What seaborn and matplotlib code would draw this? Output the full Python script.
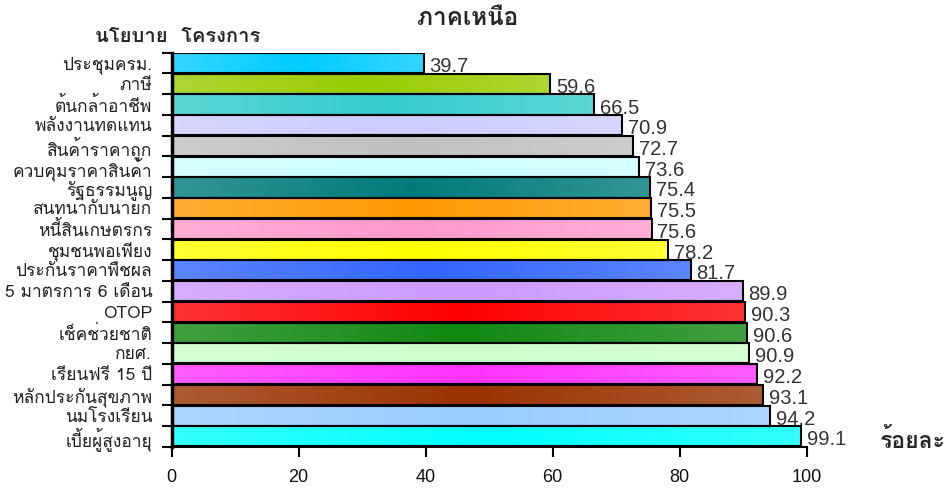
import numpy as np
import matplotlib
matplotlib.use("Agg")
import matplotlib.pyplot as plt
import seaborn as sns
from matplotlib import font_manager
from matplotlib.colors import to_rgb
from fontTools.ttLib import TTFont

# ---- data ----
policies = ["ประชุมครม.", "ภาษี", "ต้นกล้าอาชีพ", "พลังงานทดแทน", "สินค้าราคาถูก",
            "ควบคุมราคาสินค้า", "รัฐธรรมนูญ", "สนทนากับนายก", "หนี้สินเกษตรกร",
            "ชุมชนพอเพียง", "ประกันราคาพืชผล", "5 มาตรการ 6 เดือน", "OTOP",
            "เช็คช่วยชาติ", "กยศ.", "เรียนฟรี 15 ปี", "หลักประกันสุขภาพ",
            "นมโรงเรียน", "เบี้ยผู้สูงอายุ"]
percent = [39.7, 59.6, 66.5, 70.9, 72.7, 73.6, 75.4, 75.5, 75.6, 78.2,
           81.7, 89.9, 90.3, 90.6, 90.9, 92.2, 93.1, 94.2, 99.1]
bar_colors = ["#00CCFF", "#99CC00", "#33CCCC", "#CCCCFF", "#C0C0C0",
              "#CCFFFF", "#007B7B", "#FF9900", "#FF99CC", "#FFFF00",
              "#3366FF", "#CC99FF", "#FF0000", "#118811", "#CCFFCC",
              "#FF33FF", "#993300", "#99CCFF", "#00FFFF"]
x_ticks = [0, 20, 40, 60, 80, 100]


def thai_family():
    # first installed family that has Thai glyphs
    for f in font_manager.fontManager.ttflist:
        try:
            cmap = TTFont(f.fname, fontNumber=0, lazy=True).getBestCmap()
        except Exception:
            continue
        if cmap and 0x0E01 in cmap:
            return [f.name]
    return []


family = thai_family() + ["DejaVu Sans"]

sns.set_theme(style="white")
plt.rcParams["font.family"] = family

fig, ax = plt.subplots(figsize=(9.48, 4.92), dpi=100)
fig.subplots_adjust(left=0.181, right=0.851, top=0.893, bottom=0.092)

sns.barplot(x=percent, y=policies, hue=policies, palette=bar_colors,
            legend=False, orient="h", width=0.97, edgecolor="black",
            linewidth=1.5, ax=ax)

# gradient fill: slightly lighter at the ends, full colour in the middle
for patch, col in zip(ax.patches, bar_colors):
    x0, y0 = patch.get_x(), patch.get_y()
    w, h = patch.get_width(), patch.get_height()
    base = np.array(to_rgb(col))
    light = base + (1 - base) * 0.2
    t = np.abs(np.linspace(-1, 1, 200))[:, None]
    grad = light * t + base * (1 - t)
    ax.imshow(grad[None, :, :], extent=[x0, x0 + w, y0 + h, y0],
              aspect="auto", zorder=1, interpolation="bilinear")
    patch.set_facecolor("none")
    patch.set_zorder(2)

for i, v in enumerate(percent):
    ax.text(v + 0.9, i + 0.17, f"{v}", va="center", ha="left",
            fontsize=14.5, color="#333333", family=["Liberation Sans"])

ax.set_xlim(0, 100)
ax.set_ylim(len(policies) - 0.5, -0.5)
ax.set_xticks(x_ticks)
ax.set_xticklabels([str(t) for t in x_ticks], fontsize=13, color="#111111",
                   family=["Liberation Sans"])
ax.set_yticks(range(len(policies)))
ax.set_yticklabels(policies, fontsize=12.5, color="#222222")
ax.set_yticks(np.arange(-0.5, len(policies), 1), minor=True)
ax.tick_params(axis="y", which="major", length=0, pad=14)
ax.tick_params(axis="y", which="minor", length=7, width=1.5, color="black", left=True)
ax.tick_params(axis="x", which="major", length=7, width=1.5, color="black",
               bottom=True, pad=9)
ax.set_xlabel("")
ax.set_ylabel("")
for s in ["top", "right"]:
    ax.spines[s].set_visible(False)
ax.spines["left"].set_linewidth(2.5)
ax.spines["left"].set_color("black")
ax.spines["bottom"].set_linewidth(1.5)
ax.spines["bottom"].set_color("black")

fig.text(0.493, 0.962, "ภาคเหนือ", ha="center", va="center", fontsize=17.5, fontweight="bold")
fig.text(0.1, 0.925, "นโยบาย  โครงการ", ha="left", va="center", fontsize=14.5, fontweight="bold")
fig.text(0.928, 0.105, "ร้อยละ", ha="left", va="center", fontsize=16.5, fontweight="bold")

fig.savefig("out.png", dpi=100)
